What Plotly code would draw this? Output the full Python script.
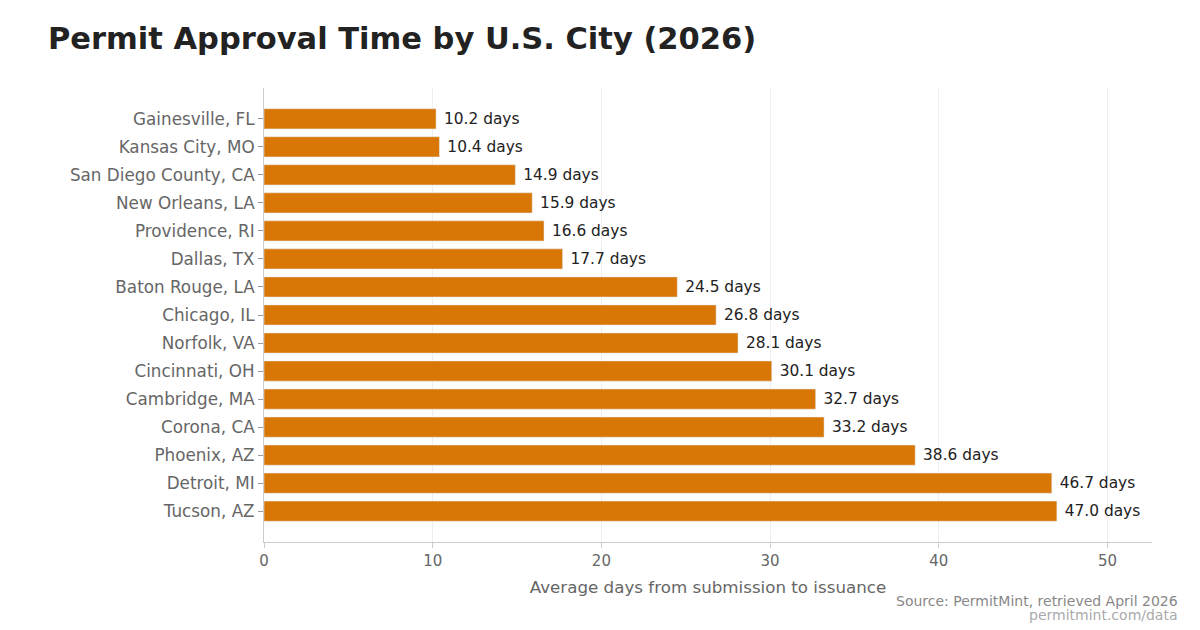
import plotly.graph_objects as go

# Permit approval times, sorted fastest first
cities = ['Gainesville, FL', 'Kansas City, MO', 'San Diego County, CA', 'New Orleans, LA',
          'Providence, RI', 'Dallas, TX', 'Baton Rouge, LA', 'Chicago, IL', 'Norfolk, VA',
          'Cincinnati, OH', 'Cambridge, MA', 'Corona, CA', 'Phoenix, AZ', 'Detroit, MI',
          'Tucson, AZ']
days = [10.2, 10.4, 14.9, 15.9, 16.6, 17.7, 24.5, 26.8, 28.1, 30.1, 32.7, 33.2, 38.6, 46.7, 47.0]
labels = [f'\u00a0{d:.1f} days' for d in days]

font = 'DejaVu Sans, Verdana, sans-serif'

fig = go.Figure(go.Bar(
    x=days, y=cities, orientation='h',
    marker=dict(color='#D97706'),
    text=labels, textposition='outside', cliponaxis=False,
    textfont=dict(size=15.4, color='#222222', family=font),
))

fig.update_layout(
    width=1200, height=630,
    paper_bgcolor='white', plot_bgcolor='white',
    margin=dict(l=256, r=56, t=80, b=96),
    bargap=0.28,
    showlegend=False,
    font=dict(family=font, color='#666666'),
    title=dict(text='<b>Permit Approval Time by U.S. City (2026)</b>',
               x=0.0333, xanchor='left', y=0.952, yanchor='middle',
               font=dict(size=30.5, color='#222222', family=font)),
)
fig.update_xaxes(
    range=[0, max(days) * 1.12],
    showgrid=True, gridcolor='#eeeeee',
    showline=True, linecolor='#cccccc',
    ticks='outside', ticklen=5, tickcolor='#cccccc',
    tickfont=dict(size=15, color='#666666'),
    title=dict(text='Average days from submission to issuance',
               font=dict(size=16.7, color='#666666'), standoff=12),
    zeroline=False,
)
fig.update_yaxes(
    range=[len(cities) - 1 + 1.1, -1.1],
    showline=True, linecolor='#cccccc',
    ticks='outside', ticklen=5, tickcolor='#999999',
    tickfont=dict(size=16.8, color='#666666'),
    showgrid=False,
)

fig.add_annotation(text='Source: PermitMint, retrieved April 2026',
                   xref='paper', yref='paper', x=1.031, y=-0.130,
                   xanchor='right', yanchor='middle', showarrow=False,
                   font=dict(size=14, color='#888888'))
fig.add_annotation(text='permitmint.com/data',
                   xref='paper', yref='paper', x=1.031, y=-0.161,
                   xanchor='right', yanchor='middle', showarrow=False,
                   font=dict(size=14, color='#aaaaaa'))

fig.write_html('out.html')
